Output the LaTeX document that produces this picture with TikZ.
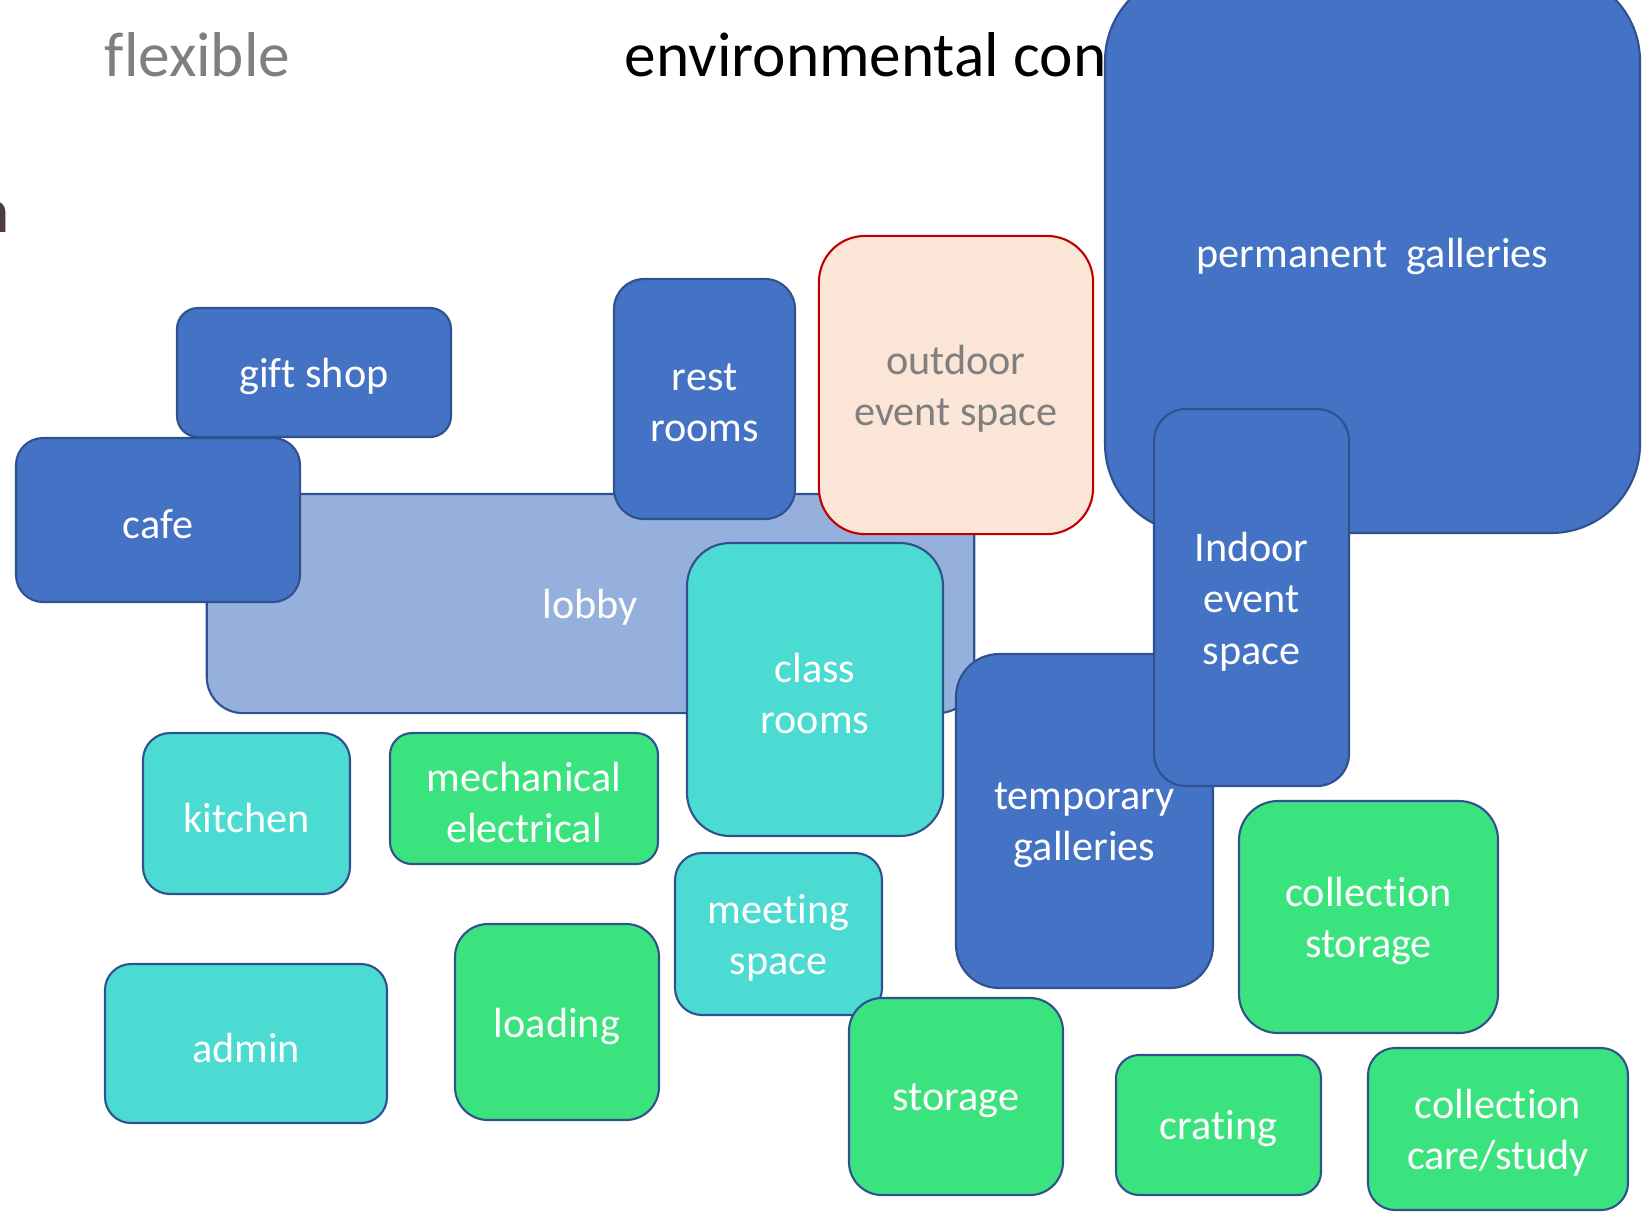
\documentclass[tikz,border=0pt]{standalone}
\usepackage{fontspec}
\setmainfont{Carlito}[Ligatures=NoCommon]
\definecolor{roomblue}{HTML}{4472C4}
\definecolor{lobbyblue}{HTML}{95B0DD}
\definecolor{roomteal}{HTML}{4BDBD2}
\definecolor{roomgreen}{HTML}{3BE37E}
\definecolor{roomedge}{HTML}{2F528F}
\definecolor{outfill}{HTML}{FBE5D6}
\definecolor{outedge}{HTML}{C00000}
\definecolor{labelgray}{HTML}{7F7F7F}
\definecolor{cutbrown}{HTML}{4E3B42}
\begin{document}
\begin{tikzpicture}[x=0.01cm,y=-0.01cm,
        room/.style={draw=roomedge,line width=0.6pt,inner sep=0pt},
        roomtext/.style={inner sep=0pt,align=center,text=white,font=\fontsize{12}{14.6}\selectfont},
        title/.style={inner sep=0pt,font=\fontsize{18}{21}\selectfont}]
        \useasboundingbox (0,0) rectangle (1646,1211);
        % headings, partly hidden behind the boxes
        \node[title,text=labelgray,anchor=base west] (flex) at (104,76) {flexible};
        \node[title,anchor=base west] (env) at (624,76) {environmental con};
        \node[title,text=cutbrown,anchor=base east] (cut) at (10,232) {n};
        \node[room,fill=lobbyblue,minimum width=7.67cm,minimum height=2.19cm,rounded corners=0.36cm] (lobby) at (590.5,603.5) {};
        \node[roomtext] (lobby-t) at ([yshift=-0.04cm]lobby.center) {lobby};
        \foreach \nm/\cx/\cy/\bw/\bh/\rad/\lbl in {
            gift/314/372.5/274/129/21/{gift shop},
            cafe/158/520/284/164/27/cafe,
            rest/704.5/399/181/240/30/{rest\\rooms},
            perm/1372.5/252.5/535/561/89/{permanent\ \ galleries},
            temp/1084.5/821/257/334/43/{temporary\\galleries},
            indoor/1251.5/597.5/195/377/32/{Indoor\\event\\space}}
        {
            \node[room,fill=roomblue,minimum width=\bw*0.01cm,minimum height=\bh*0.01cm,rounded corners=\rad*0.01cm] (\nm) at (\cx,\cy) {};
            \node[roomtext] (\nm-t) at ([yshift=-0.04cm]\nm.center) {\lbl};
        }
        \node[room,fill=outfill,draw=outedge,minimum width=2.74cm,minimum height=2.98cm,rounded corners=0.46cm] (outdoor) at (956,385) {};
        \node[roomtext,text=labelgray] (outdoor-t) at ([yshift=-0.04cm]outdoor.center) {outdoor\\event space};
        \foreach \nm/\cx/\cy/\bw/\bh/\rad/\lbl in {
            class/815/689.5/256/293/43/{class\\rooms},
            kitchen/246.5/813.5/207/161/27/kitchen,
            meeting/778.5/934/207/162/27/{meeting\\space},
            admin/246/1043.5/282/159/26/admin}
        {
            \node[room,fill=roomteal,minimum width=\bw*0.01cm,minimum height=\bh*0.01cm,rounded corners=\rad*0.01cm] (\nm) at (\cx,\cy) {};
            \node[roomtext] (\nm-t) at ([yshift=-0.04cm]\nm.center) {\lbl};
        }
        \foreach \nm/\cx/\cy/\bw/\bh/\rad/\lbl in {
            mech/524/798.5/268/131/22/{mechanical\\electrical},
            loading/557/1022/204/196/33/loading,
            storage/956/1096.5/214/197/33/storage,
            crating/1218.5/1125/205/140/23/crating,
            collstor/1368.5/917/259/232/39/{collection\\storage},
            collcare/1498/1129/260/162/27/{collection\\care/study}}
        {
            \node[room,fill=roomgreen,minimum width=\bw*0.01cm,minimum height=\bh*0.01cm,rounded corners=\rad*0.01cm] (\nm) at (\cx,\cy) {};
            \node[roomtext] (\nm-t) at ([yshift=-0.04cm]\nm.center) {\lbl};
        }
\end{tikzpicture}
\end{document}
